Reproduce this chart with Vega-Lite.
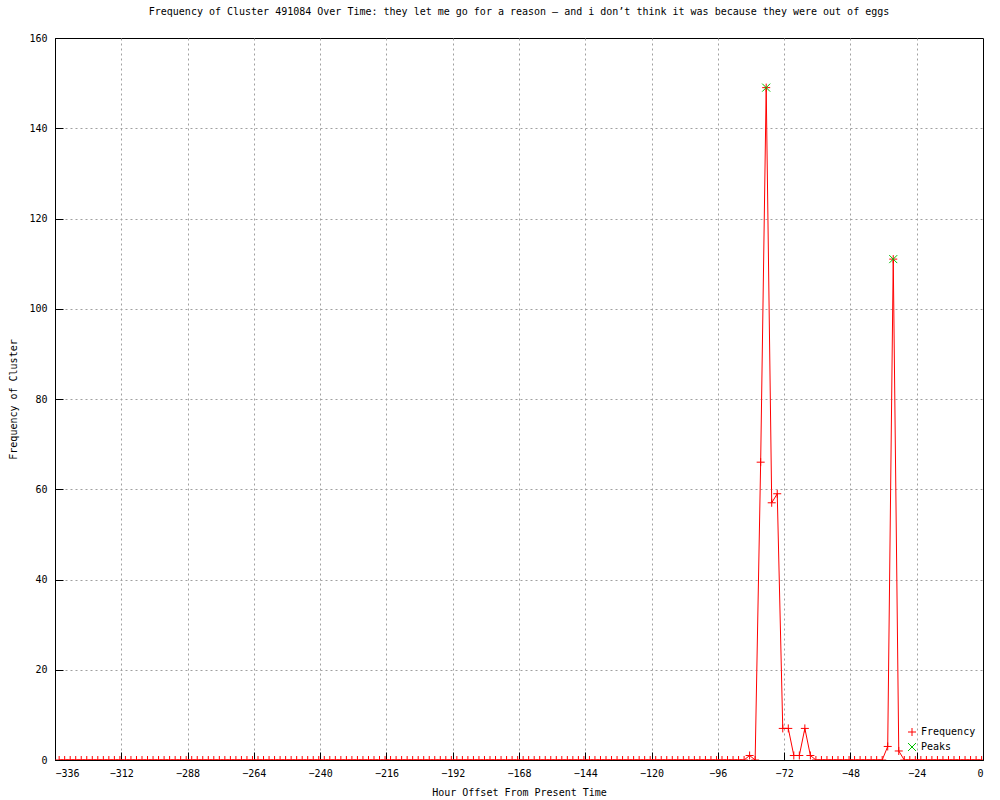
{
  "$schema": "https://vega.github.io/schema/vega-lite/v6.json",
  "width": 928,
  "height": 722,
  "autosize": {"type": "none"},
  "padding": {"left": 55, "top": 38, "right": 17, "bottom": 40},
  "background": "white",
  "title": {"text": "Frequency of Cluster 491084 Over Time: they let me go for a reason – and i don’t think it was because they were out of eggs", "font": "DejaVu Sans Mono", "fontSize": 10, "fontWeight": "normal", "color": "black", "offset": 16, "anchor": "middle"},
  "config": {
    "view": {"stroke": "black", "strokeWidth": 1},
    "axis": {"labelFont": "DejaVu Sans Mono", "labelFontSize": 10, "labelColor": "black", "titleFont": "DejaVu Sans Mono", "titleFontSize": 10, "titleFontWeight": "normal", "titleColor": "black", "domainColor": "black", "tickColor": "black", "gridColor": "#a0a0a0", "gridDash": [2, 3], "gridWidth": 1, "tickSize": -8, "labelPadding": 16},
    "legend": {"labelFont": "DejaVu Sans Mono", "labelFontSize": 10, "labelColor": "black"}
  },
  "datasets": {
    "freq": [
      {"h":-334.5,"f":0},{"h":-332.5,"f":0},{"h":-330.5,"f":0},{"h":-328.5,"f":0},{"h":-326.5,"f":0},{"h":-324.5,"f":0},{"h":-322.5,"f":0},{"h":-320.5,"f":0},{"h":-318.5,"f":0},{"h":-316.5,"f":0},
      {"h":-314.5,"f":0},{"h":-312.5,"f":0},{"h":-310.5,"f":0},{"h":-308.5,"f":0},{"h":-306.5,"f":0},{"h":-304.5,"f":0},{"h":-302.5,"f":0},{"h":-300.5,"f":0},{"h":-298.5,"f":0},{"h":-296.5,"f":0},
      {"h":-294.5,"f":0},{"h":-292.5,"f":0},{"h":-290.5,"f":0},{"h":-288.5,"f":0},{"h":-286.5,"f":0},{"h":-284.5,"f":0},{"h":-282.5,"f":0},{"h":-280.5,"f":0},{"h":-278.5,"f":0},{"h":-276.5,"f":0},
      {"h":-274.5,"f":0},{"h":-272.5,"f":0},{"h":-270.5,"f":0},{"h":-268.5,"f":0},{"h":-266.5,"f":0},{"h":-264.5,"f":0},{"h":-262.5,"f":0},{"h":-260.5,"f":0},{"h":-258.5,"f":0},{"h":-256.5,"f":0},
      {"h":-254.5,"f":0},{"h":-252.5,"f":0},{"h":-250.5,"f":0},{"h":-248.5,"f":0},{"h":-246.5,"f":0},{"h":-244.5,"f":0},{"h":-242.5,"f":0},{"h":-240.5,"f":0},{"h":-238.5,"f":0},{"h":-236.5,"f":0},
      {"h":-234.5,"f":0},{"h":-232.5,"f":0},{"h":-230.5,"f":0},{"h":-228.5,"f":0},{"h":-226.5,"f":0},{"h":-224.5,"f":0},{"h":-222.5,"f":0},{"h":-220.5,"f":0},{"h":-218.5,"f":0},{"h":-216.5,"f":0},
      {"h":-214.5,"f":0},{"h":-212.5,"f":0},{"h":-210.5,"f":0},{"h":-208.5,"f":0},{"h":-206.5,"f":0},{"h":-204.5,"f":0},{"h":-202.5,"f":0},{"h":-200.5,"f":0},{"h":-198.5,"f":0},{"h":-196.5,"f":0},
      {"h":-194.5,"f":0},{"h":-192.5,"f":0},{"h":-190.5,"f":0},{"h":-188.5,"f":0},{"h":-186.5,"f":0},{"h":-184.5,"f":0},{"h":-182.5,"f":0},{"h":-180.5,"f":0},{"h":-178.5,"f":0},{"h":-176.5,"f":0},
      {"h":-174.5,"f":0},{"h":-172.5,"f":0},{"h":-170.5,"f":0},{"h":-168.5,"f":0},{"h":-166.5,"f":0},{"h":-164.5,"f":0},{"h":-162.5,"f":0},{"h":-160.5,"f":0},{"h":-158.5,"f":0},{"h":-156.5,"f":0},
      {"h":-154.5,"f":0},{"h":-152.5,"f":0},{"h":-150.5,"f":0},{"h":-148.5,"f":0},{"h":-146.5,"f":0},{"h":-144.5,"f":0},{"h":-142.5,"f":0},{"h":-140.5,"f":0},{"h":-138.5,"f":0},{"h":-136.5,"f":0},
      {"h":-134.5,"f":0},{"h":-132.5,"f":0},{"h":-130.5,"f":0},{"h":-128.5,"f":0},{"h":-126.5,"f":0},{"h":-124.5,"f":0},{"h":-122.5,"f":0},{"h":-120.5,"f":0},{"h":-118.5,"f":0},{"h":-116.5,"f":0},
      {"h":-114.5,"f":0},{"h":-112.5,"f":0},{"h":-110.5,"f":0},{"h":-108.5,"f":0},{"h":-106.5,"f":0},{"h":-104.5,"f":0},{"h":-102.5,"f":0},{"h":-100.5,"f":0},{"h":-98.5,"f":0},{"h":-96.5,"f":0},
      {"h":-94.5,"f":0},{"h":-92.5,"f":0},{"h":-90.5,"f":0},{"h":-88.5,"f":0},{"h":-86.5,"f":0},{"h":-84.5,"f":1},{"h":-82.5,"f":0},{"h":-80.5,"f":66},{"h":-78.5,"f":149},{"h":-76.5,"f":57},
      {"h":-74.5,"f":59},{"h":-72.5,"f":7},{"h":-70.5,"f":7},{"h":-68.5,"f":1},{"h":-66.5,"f":1},{"h":-64.5,"f":7},{"h":-62.5,"f":1},{"h":-60.5,"f":0},{"h":-58.5,"f":0},{"h":-56.5,"f":0},
      {"h":-54.5,"f":0},{"h":-52.5,"f":0},{"h":-50.5,"f":0},{"h":-48.5,"f":0},{"h":-46.5,"f":0},{"h":-44.5,"f":0},{"h":-42.5,"f":0},{"h":-40.5,"f":0},{"h":-38.5,"f":0},{"h":-36.5,"f":0},
      {"h":-34.5,"f":3},{"h":-32.5,"f":111},{"h":-30.5,"f":2},{"h":-28.5,"f":0},{"h":-26.5,"f":0},{"h":-24.5,"f":0},{"h":-22.5,"f":0},{"h":-20.5,"f":0},{"h":-18.5,"f":0},{"h":-16.5,"f":0},
      {"h":-14.5,"f":0},{"h":-12.5,"f":0},{"h":-10.5,"f":0},{"h":-8.5,"f":0},{"h":-6.5,"f":0},{"h":-4.5,"f":0},{"h":-2.5,"f":0},{"h":-0.5,"f":0}
    ],
    "peaks": [
      {"h":-78.5,"f":149},{"h":-32.5,"f":111}
    ]
  },
  "encoding": {
    "x": {"field": "h", "type": "quantitative", "title": "Hour Offset From Present Time",
      "scale": {"domain": [-336, 0], "nice": false, "zero": false},
      "axis": {"values": [-336,-312,-288,-264,-240,-216,-192,-168,-144,-120,-96,-72,-48,-24,0], "titlePadding": 9,
        "gridOpacity": {"condition": {"test": "datum.value == -336 || datum.value == 0", "value": 0}, "value": 1}}},
    "y": {"field": "f", "type": "quantitative", "title": "Frequency of Cluster",
      "scale": {"domain": [0, 160], "nice": false},
      "axis": {"values": [0,20,40,60,80,100,120,140,160], "titlePadding": 10,
        "gridOpacity": {"condition": {"test": "datum.value == 0 || datum.value == 160", "value": 0}, "value": 1}}}
  },
  "layer": [
    {
      "data": {"name": "freq"},
      "mark": {"type": "line", "strokeWidth": 1, "color": "#ff0000", "clip": true},
      "encoding": {}
    },
    {
      "data": {"name": "freq"},
      "mark": {"type": "point", "filled": false, "strokeWidth": 1, "size": 64, "opacity": 1, "clip": true},
      "encoding": {
        "color": {"datum": "Frequency", "type": "nominal", "scale": {"domain": ["Frequency", "Peaks"], "range": ["#ff0000", "#00c000"]}, "legend": {"title": null, "orient": "bottom-right", "offset": 7, "symbolStrokeWidth": 1, "symbolSize": 64, "rowPadding": 3}},
        "shape": {"datum": "Frequency", "type": "nominal", "scale": {"domain": ["Frequency", "Peaks"], "range": ["M-1,0L1,0M0,-1L0,1", "M-1,-1L1,1M-1,1L1,-1"]}, "legend": {"title": null, "orient": "bottom-right", "offset": 7, "symbolStrokeWidth": 1, "symbolSize": 64, "rowPadding": 3}}
      }
    },
    {
      "data": {"name": "peaks"},
      "mark": {"type": "point", "filled": false, "strokeWidth": 1, "size": 64, "opacity": 1},
      "encoding": {
        "color": {"datum": "Peaks", "type": "nominal"},
        "shape": {"datum": "Peaks", "type": "nominal"}
      }
    }
  ]
}
